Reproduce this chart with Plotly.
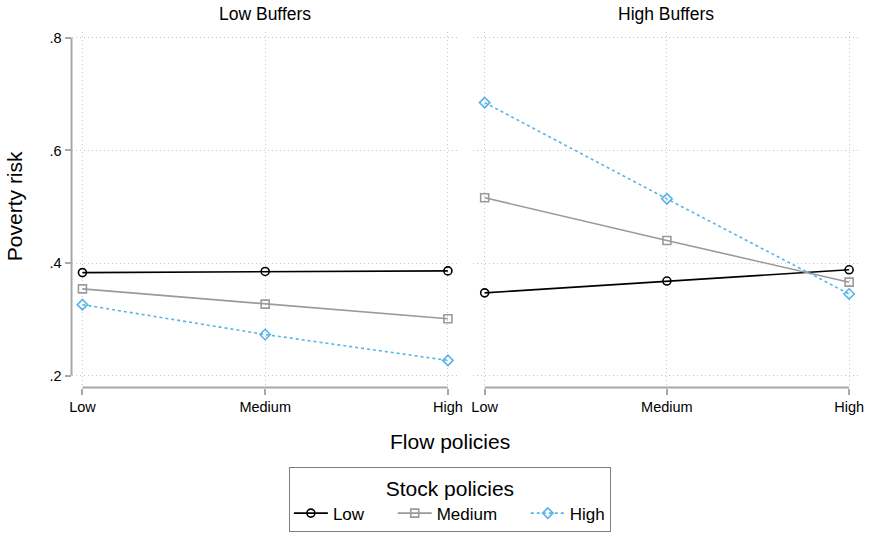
import plotly.graph_objects as go

flow = ["Low", "Medium", "High"]
stock = ["Low", "Medium", "High"]
panels = ["Low Buffers", "High Buffers"]

# Poverty risk by stock policy, for each panel
low_buf_low = [0.383, 0.385, 0.386]
low_buf_med = [0.354, 0.327, 0.301]
low_buf_high = [0.326, 0.273, 0.227]
high_buf_low = [0.347, 0.368, 0.388]
high_buf_med = [0.516, 0.440, 0.366]
high_buf_high = [0.685, 0.514, 0.345]

yticks = [0.2, 0.4, 0.6, 0.8]
yticktext = [".2", ".4", ".6", ".8"]

colors = ["#000000", "#9a9a9a", "#56b4e9"]
symbols = ["circle-open", "square-open", "diamond-open"]
dashes = ["solid", "solid", "3px,3px"]

W, H = 871, 534
def px_x(p):
    return p / W
def px_y(p):
    return 1 - p / H

# trailing non-breaking spaces widen legend entries like the reference layout
legend_pad = ["\u00a0" * 5, "\u00a0" * 5, ""]

fig = go.Figure()
series = [
    ("x", "y", [low_buf_low, low_buf_med, low_buf_high]),
    ("x2", "y2", [high_buf_low, high_buf_med, high_buf_high]),
]
for pi, (xa, ya, vals) in enumerate(series):
    for si, v in enumerate(vals):
        fig.add_trace(go.Scatter(
            x=flow, y=v, xaxis=xa, yaxis=ya, mode="lines+markers",
            name=stock[si] + legend_pad[si], showlegend=(pi == 0),
            legendgroup=stock[si],
            line=dict(color=colors[si], width=1.6, dash=dashes[si]),
            marker=dict(symbol=symbols[si], size=8, color=colors[si],
                        line=dict(width=1.6, color=colors[si])),
        ))

yrange = [0.2 - 12 / 565, 0.8 + 6 / 565]
xr1 = [-11 / 184, 2 + 11 / 184]
xr2 = [-12 / 183.5, 2 + 11 / 183.5]
ydom = [px_y(387), px_y(30)]

grid = dict(showgrid=True, gridcolor="#c8c8c8", griddash="1px,3px", gridwidth=1)
tickfont = dict(size=14.5, color="#000", family="Liberation Sans, Arial")
common_x = dict(type="category", categoryorder="array", categoryarray=flow,
                showline=False, zeroline=False, ticks="outside", ticklen=6,
                tickcolor="#a8a8a8", tickwidth=1.5, tickfont=tickfont, **grid)
common_y = dict(range=yrange, tickvals=yticks, ticktext=yticktext,
                showline=False, zeroline=False, tickfont=tickfont, **grid)

fig.update_layout(
    width=W, height=H,
    margin=dict(l=0, r=0, t=0, b=0),
    paper_bgcolor="white", plot_bgcolor="white",
    font=dict(family="Liberation Sans, Arial", color="#000"),
    xaxis=dict(domain=[px_x(70), px_x(460)], range=xr1, anchor="y", **common_x),
    xaxis2=dict(domain=[px_x(474), px_x(864)], range=xr2, anchor="y2", **common_x),
    yaxis=dict(domain=ydom, anchor="x", ticks="outside", ticklen=6,
               tickcolor="#a8a8a8", tickwidth=1.5, **common_y),
    yaxis2=dict(domain=ydom, anchor="x2", showticklabels=False, ticks="", **common_y),
    legend=dict(
        orientation="h", x=px_x(451), xanchor="center", y=px_y(467), yanchor="top",
        bordercolor="#808080", borderwidth=1, bgcolor="white",
        title=dict(text="Stock policies", side="top center", font=dict(size=21)),
        font=dict(size=17), itemwidth=34,
    ),
    annotations=[
        dict(text=panels[0], x=px_x(265), y=px_y(12), xref="paper", yref="paper",
             showarrow=False, font=dict(size=17.5), xanchor="center", yanchor="middle"),
        dict(text=panels[1], x=px_x(669), y=px_y(12), xref="paper", yref="paper",
             showarrow=False, font=dict(size=17.5), xanchor="center", yanchor="middle"),
        dict(text="Poverty risk", x=px_x(12), y=px_y(205), xref="paper", yref="paper",
             showarrow=False, font=dict(size=21), textangle=-90,
             xanchor="center", yanchor="middle"),
        dict(text="Flow policies", x=px_x(451), y=px_y(441), xref="paper", yref="paper",
             showarrow=False, font=dict(size=21), xanchor="center", yanchor="middle"),
    ],
    shapes=[
        # left y axis line from .2 to .8
        dict(type="line", xref="x domain", yref="y", x0=0, x1=0, y0=0.2, y1=0.8,
             line=dict(color="#a8a8a8", width=2)),
        # x axis lines, offset below the plot region
        dict(type="line", xref="x", yref="y domain", x0=0, x1=2, y0=0, y1=0,
             line=dict(color="#a8a8a8", width=2)),
        dict(type="line", xref="x2", yref="y2 domain", x0=0, x1=2, y0=0, y1=0,
             line=dict(color="#a8a8a8", width=2)),
    ],
)

fig.write_html("out.html", config={"displayModeBar": False},
               post_script="document.body.style.margin='0px';")
